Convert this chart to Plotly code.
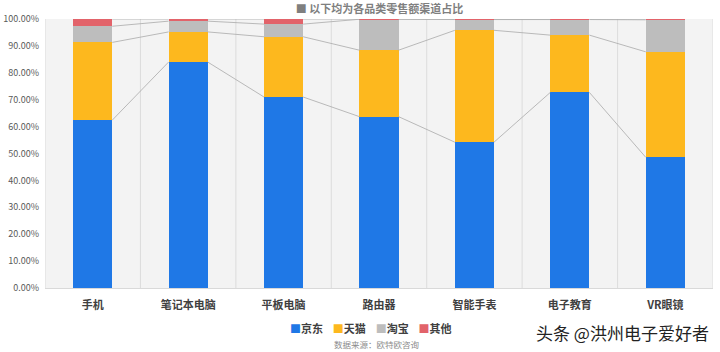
import plotly.graph_objects as go

categories = ["手机", "笔记本电脑", "平板电脑", "路由器", "智能手表", "电子教育", "VR眼镜"]
series_names = ["京东", "天猫", "淘宝", "其他"]
jd = [62.4, 84.0, 71.0, 63.7, 54.2, 72.7, 48.6]
tmall = [28.9, 11.2, 22.4, 24.7, 41.6, 21.3, 39.2]
taobao = [6.0, 4.0, 4.7, 11.5, 4.0, 5.8, 11.9]
other = [2.7, 0.8, 1.9, 0.1, 0.2, 0.2, 0.3]
colors = ["#1f78e6", "#fdb81e", "#bdbdbd", "#e2636a"]
y_ticks = [i / 10 for i in range(11)]

series = [jd, tmall, taobao, other]
x = list(range(len(categories)))
bar_w = 0.41

fig = go.Figure()

# stacked bars
for name, vals, col in zip(series_names, series, colors):
    fig.add_trace(go.Bar(
        x=x, y=[v / 100 for v in vals], name=name, width=bar_w,
        marker=dict(color=col, line=dict(width=0)),
        hoverinfo="skip", showlegend=False,
    ))

# series lines connecting cumulative levels between adjacent bars
cum = [0.0] * len(categories)
for vals in series:
    cum = [c + v for c, v in zip(cum, vals)]
    lx, ly = [], []
    for i in range(len(categories) - 1):
        lx += [x[i] + bar_w / 2, x[i + 1] - bar_w / 2, None]
        ly += [cum[i] / 100, cum[i + 1] / 100, None]
    fig.add_trace(go.Scatter(
        x=lx, y=ly, mode="lines", line=dict(color="#a9a9a9", width=0.8),
        showlegend=False, hoverinfo="skip",
    ))

# vertical category separators
for k in range(len(categories) + 1):
    fig.add_shape(type="line", xref="x", yref="paper",
                  x0=k - 0.5, x1=k - 0.5, y0=0, y1=1,
                  line=dict(color="#dcdcdc", width=1), layer="below")

fig.update_layout(
    width=720, height=352,
    margin=dict(l=45, r=7, t=19, b=64, autoexpand=False),
    barmode="stack",
    paper_bgcolor="white",
    plot_bgcolor="#f3f3f3",
    font=dict(family="Noto Sans CJK SC, Noto Sans, sans-serif", color="#595959"),
    title=dict(
        text="<b>■ 以下均为各品类零售额渠道占比</b>",
        x=0.527, xanchor="center", y=0.985, yanchor="top",
        font=dict(size=11, color="#7f7f7f"),
    ),
    showlegend=False,
)

fig.update_xaxes(
    range=[-0.5, len(categories) - 0.5],
    tickvals=x, ticktext=[f"<b>{c}</b>" for c in categories],
    tickfont=dict(size=11, color="#404040"),
    showgrid=False, zeroline=False, showline=True, linecolor="#d9d9d9",
    ticks="", ticklabelstandoff=7,
)
fig.update_yaxes(
    range=[0, 1], tickvals=y_ticks, tickformat=".2%",
    tickfont=dict(size=9, color="#595959"),
    showgrid=False, zeroline=False, showline=False, ticks="",
    ticklabelstandoff=5,
)

# legend built as a single line of text
legend_text = "&nbsp;&nbsp;&nbsp;&nbsp;".join(
    f"<span style='color:{c}'>■</span><b>{n}</b>" for n, c in zip(series_names, colors)
)
fig.add_annotation(
    text=legend_text, xref="paper", yref="paper",
    x=0.488, y=-0.113, xanchor="center", yanchor="top", showarrow=False,
    font=dict(size=11, color="#404040"),
)
fig.add_annotation(
    text="数据来源：欧特欧咨询", xref="paper", yref="paper",
    x=0.497, y=-0.18, xanchor="center", yanchor="top", showarrow=False,
    font=dict(size=8.5, color="#8c8c8c"),
)
fig.add_annotation(
    text="头条 @洪州电子爱好者", xref="paper", yref="paper",
    x=0.997, y=-0.11, xanchor="right", yanchor="top", showarrow=False,
    font=dict(size=17, color="#222222", family="Noto Sans CJK SC"),
)

fig.write_html("out.html")
